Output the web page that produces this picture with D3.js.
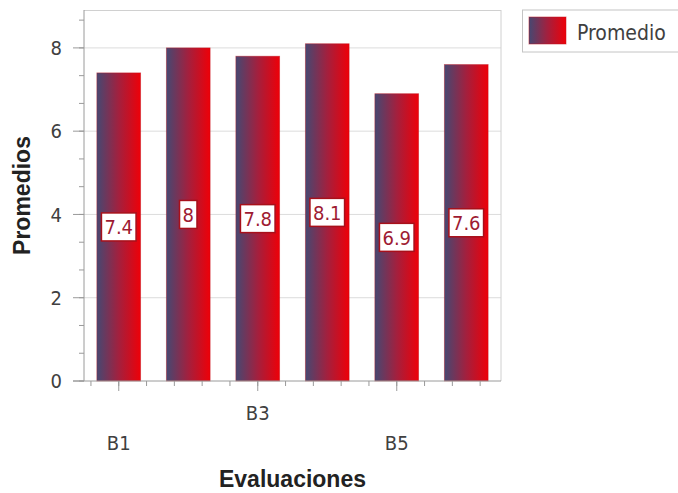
<!DOCTYPE html>
<html>
<head>
<meta charset="utf-8">
<script src="https://cdn.jsdelivr.net/npm/d3@7"></script>
<style>
  body { margin: 0; background: #fff; }
  .lbl { font-family: "DejaVu Sans Condensed", "DejaVu Sans", sans-serif; font-stretch: condensed; }
  .ttl { font-family: "Liberation Sans", Arial, sans-serif; font-weight: bold; }
</style>
</head>
<body>
<div id="chart"></div>
<script>
// data
const categories = ["B1", "B2", "B3", "B4", "B5", "B6"];
const values = [7.4, 8, 7.8, 8.1, 6.9, 7.6];
const yTicks = [0, 2, 4, 6, 8];
const xTickLabels = ["B1", "B3", "B5"];
const seriesName = "Promedio";
const yMax = 8.91;

// 1. dimensions
const dimensions = {
  width: 678,
  height: 493,
  margin: { top: 10, right: 177, bottom: 112, left: 84 },
};
dimensions.boundedWidth =
  dimensions.width - dimensions.margin.left - dimensions.margin.right;
dimensions.boundedHeight =
  dimensions.height - dimensions.margin.top - dimensions.margin.bottom;

// 2. canvas
const svg = d3
  .select("#chart")
  .append("svg")
  .attr("width", dimensions.width)
  .attr("height", dimensions.height);

const defs = svg.append("defs");
const grad = defs
  .append("linearGradient")
  .attr("id", "barGrad")
  .attr("x1", "0%").attr("x2", "100%")
  .attr("y1", "0%").attr("y2", "0%");
grad.append("stop").attr("offset", "0%").attr("stop-color", "#464872");
grad.append("stop").attr("offset", "50%").attr("stop-color", "#a3203e");
grad.append("stop").attr("offset", "100%").attr("stop-color", "#ee0008");

const bounds = svg
  .append("g")
  .attr("transform", `translate(${dimensions.margin.left},${dimensions.margin.top})`);

// 3. scales
const xScale = d3
  .scaleBand()
  .domain(categories)
  .range([0, dimensions.boundedWidth])
  .paddingInner(0.37)
  .paddingOuter(0.185);

const yScale = d3
  .scaleLinear()
  .domain([0, yMax])
  .range([dimensions.boundedHeight, 0]);

const center = (c) => xScale(c) + xScale.bandwidth() / 2;

// 4. grid + frame
bounds
  .append("g")
  .selectAll("line")
  .data(yTicks.filter((d) => d > 0))
  .join("line")
  .attr("x1", 0)
  .attr("x2", dimensions.boundedWidth)
  .attr("y1", (d) => yScale(d))
  .attr("y2", (d) => yScale(d))
  .attr("stroke", "#dcdcdc");

bounds.append("line")
  .attr("x1", 0).attr("x2", dimensions.boundedWidth)
  .attr("y1", 0.5).attr("y2", 0.5)
  .attr("stroke", "#d0d0d0");
bounds.append("line")
  .attr("x1", dimensions.boundedWidth).attr("x2", dimensions.boundedWidth)
  .attr("y1", 0).attr("y2", dimensions.boundedHeight)
  .attr("stroke", "#d0d0d0");

// 5. bars
bounds
  .append("g")
  .selectAll("rect")
  .data(values)
  .join("rect")
  .attr("x", (d, i) => xScale(categories[i]))
  .attr("y", (d) => yScale(d))
  .attr("width", xScale.bandwidth())
  .attr("height", (d) => dimensions.boundedHeight - yScale(d))
  .attr("fill", "url(#barGrad)")
  .attr("stroke", "#c0101c")
  .attr("stroke-opacity", 0.5)
  .attr("stroke-width", 0.8);

// 6. axes
const yAxis = bounds.append("g");
const minorY = d3.range(0, 14).map((i) => (i * 2) / 3).filter((d) => d <= yMax);
yAxis.selectAll(".minor")
  .data(minorY)
  .join("line")
  .attr("x1", -5).attr("x2", 0)
  .attr("y1", (d) => yScale(d)).attr("y2", (d) => yScale(d))
  .attr("stroke", "#9a9a9a");
yAxis.selectAll(".major")
  .data(yTicks)
  .join("line")
  .attr("x1", -11).attr("x2", 0)
  .attr("y1", (d) => yScale(d)).attr("y2", (d) => yScale(d))
  .attr("stroke", "#9a9a9a");
yAxis.selectAll("text")
  .data(yTicks)
  .join("text")
  .attr("class", "lbl")
  .attr("x", -22)
  .attr("y", (d) => yScale(d))
  .attr("dy", "0.36em")
  .attr("text-anchor", "end")
  .attr("font-size", 20)
  .attr("fill", "#404040")
  .text((d) => d);
yAxis.append("line")
  .attr("x1", 0).attr("x2", 0)
  .attr("y1", 0).attr("y2", dimensions.boundedHeight)
  .attr("stroke", "#9a9a9a");

const xAxis = bounds
  .append("g")
  .attr("transform", `translate(0,${dimensions.boundedHeight})`);
const step = (center("B3") - center("B1")) / 5;
const minorX = d3.range(-1, 20)
  .map((k) => center("B1") + k * step)
  .filter((x) => x >= 0 && x <= dimensions.boundedWidth);
xAxis.selectAll(".minor")
  .data(minorX)
  .join("line")
  .attr("x1", (d) => d).attr("x2", (d) => d)
  .attr("y1", 0).attr("y2", 5)
  .attr("stroke", "#9a9a9a");
xAxis.selectAll(".major")
  .data(xTickLabels)
  .join("line")
  .attr("x1", (d) => center(d)).attr("x2", (d) => center(d))
  .attr("y1", 0).attr("y2", 10)
  .attr("stroke", "#9a9a9a");
xAxis.selectAll("text")
  .data(xTickLabels)
  .join("text")
  .attr("class", "lbl")
  .attr("x", (d) => center(d))
  .attr("y", (d, i) => (i % 2 === 1 ? 38.5 : 68.5))
  .attr("text-anchor", "middle")
  .attr("font-size", 20)
  .attr("fill", "#404040")
  .text((d) => d);
xAxis.append("line")
  .attr("x1", -11).attr("x2", dimensions.boundedWidth)
  .attr("y1", 0).attr("y2", 0)
  .attr("stroke", "#9a9a9a");

// 7. value labels
const labels = bounds
  .append("g")
  .selectAll("g")
  .data(values)
  .join("g")
  .attr("transform", (d, i) => `translate(${center(categories[i])},${yScale(d / 2)})`);
labels.append("rect").attr("fill", "#fff").attr("stroke", "#a8101a").attr("stroke-width", 1.5);
labels.append("text")
  .attr("class", "lbl")
  .attr("text-anchor", "middle")
  .attr("dy", "0.36em")
  .attr("font-size", 20)
  .attr("fill", "#9e1b32")
  .text((d) => d);
labels.each(function () {
  const g = d3.select(this);
  const bb = g.select("text").node().getBBox();
  g.select("rect")
    .attr("x", -bb.width / 2 - 3)
    .attr("y", -14)
    .attr("width", bb.width + 6)
    .attr("height", 28);
});

// 8. titles
svg.append("text")
  .attr("class", "ttl")
  .attr("x", dimensions.margin.left + dimensions.boundedWidth / 2)
  .attr("y", 486.5)
  .attr("text-anchor", "middle")
  .attr("font-size", 23)
  .attr("fill", "#222")
  .text("Evaluaciones");
svg.append("text")
  .attr("class", "ttl")
  .attr("transform", `translate(30,${dimensions.margin.top + dimensions.boundedHeight / 2}) rotate(-90)`)
  .attr("text-anchor", "middle")
  .attr("font-size", 23)
  .attr("fill", "#222")
  .text("Promedios");

// 9. legend
const legend = svg.append("g").attr("transform", "translate(522,10)");
legend.append("rect")
  .attr("x", 0.5).attr("y", 0)
  .attr("width", 200).attr("height", 42)
  .attr("fill", "#fff").attr("stroke", "#c4c4c4");
legend.append("rect")
  .attr("x", 7).attr("y", 7)
  .attr("width", 37).attr("height", 27)
  .attr("fill", "url(#barGrad)")
  .attr("stroke", "#c0101c").attr("stroke-opacity", 0.5);
legend.append("text")
  .attr("class", "lbl")
  .attr("x", 55).attr("y", 30)
  .attr("font-size", 21)
  .attr("fill", "#404040")
  .text(seriesName);
</script>
</body>
</html>
